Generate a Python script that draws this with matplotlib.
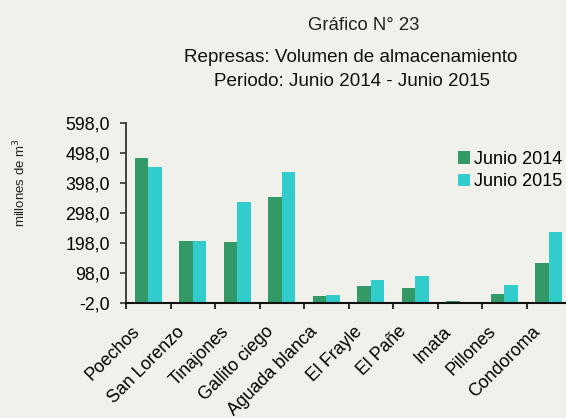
import matplotlib
matplotlib.use("Agg")
import matplotlib.pyplot as plt
import matplotlib.transforms as mtransforms
import numpy as np
from matplotlib.patches import Patch

categories = ["Poechos", "San Lorenzo", "Tinajones", "Gallito ciego", "Aguada blanca",
              "El Frayle", "El Pañe", "Imata", "Pillones", "Condoroma"]
junio_2014 = [480, 204, 200, 350, 20, 54, 47, 4, 27, 130]
junio_2015 = [450, 204, 333, 433, 24, 74, 87, 0, 57, 234]
y_ticks = [-2, 98, 198, 298, 398, 498, 598]
y_tick_labels = ["-2,0", "98,0", "198,0", "298,0", "398,0", "498,0", "598,0"]
series_names = ["Junio 2014", "Junio 2015"]

bg = "#EFF1EA"
c14 = "#339966"
c15 = "#33CCCC"

plt.rcParams["font.family"] = ["Liberation Sans", "DejaVu Sans"]

fig = plt.figure(figsize=(5.66, 4.18), dpi=100, facecolor=bg)
ax = fig.add_axes([126 / 566, (418 - 302.7) / 418, 445 / 566, 180 / 418])
ax.set_facecolor(bg)

x = np.arange(len(categories))
w = 0.3
ax.bar(x - w / 2, junio_2014, width=w, bottom=0, color=c14, zorder=2)
ax.bar(x + w / 2, junio_2015, width=w, bottom=0, color=c15, zorder=2)

ax.set_xlim(-0.5, len(categories) - 0.5)
ax.set_ylim(-2, 598)

ax.set_yticks(y_ticks)
ax.set_yticklabels(y_tick_labels, fontsize=12.8)
ax.tick_params(axis="y", direction="out", length=4.5, width=1.2, pad=7, color="#333333")

ax.set_xticks(np.arange(len(categories) + 1) - 0.5)
ax.set_xticklabels([])
ax.tick_params(axis="x", which="major", direction="out", length=4.5, width=1.5, color="#333333")
ax.set_xticks(x, minor=True)
ax.set_xticklabels(categories, minor=True, rotation=45, ha="right", va="center",
                   rotation_mode="anchor", fontsize=12.8)
ax.tick_params(axis="x", which="minor", length=0, pad=14)
offset = mtransforms.ScaledTranslation(-11 / 100, -7 / 100, fig.dpi_scale_trans)
for lbl in ax.get_xticklabels(minor=True):
    lbl.set_transform(lbl.get_transform() + offset)

for s in ["top", "right"]:
    ax.spines[s].set_visible(False)
ax.spines["left"].set_color("#333333")
ax.spines["left"].set_linewidth(1.3)
ax.spines["bottom"].set_color("#111111")
ax.spines["bottom"].set_linewidth(1.5)

handles = [Patch(facecolor=c14, edgecolor="none"), Patch(facecolor=c15, edgecolor="none")]
fig.legend(handles, series_names, loc="upper right", bbox_to_anchor=(573 / 566, (418 - 140) / 418),
           frameon=False, fontsize=13, handlelength=0.7, handleheight=0.7,
           handletextpad=0.2, labelspacing=0.3, borderaxespad=0.2)

fig.text(364 / 566, 1 - 25 / 418, "Gráfico N° 23", ha="center", va="center", fontsize=13.4, color="#222222")
fig.text(351 / 566, 1 - 57 / 418, "Represas: Volumen de almacenamiento", ha="center", va="center",
         fontsize=13.6, color="#111111")
fig.text(352 / 566, 1 - 81 / 418, "Periodo: Junio 2014 - Junio 2015", ha="center", va="center",
         fontsize=13.6, color="#111111")
fig.text(20 / 566, 1 - 183 / 418, "millones de m$^3$", rotation=90, ha="center", va="center",
         fontsize=9.5, color="#222222")

fig.savefig("out.png", dpi=100, facecolor=bg)
